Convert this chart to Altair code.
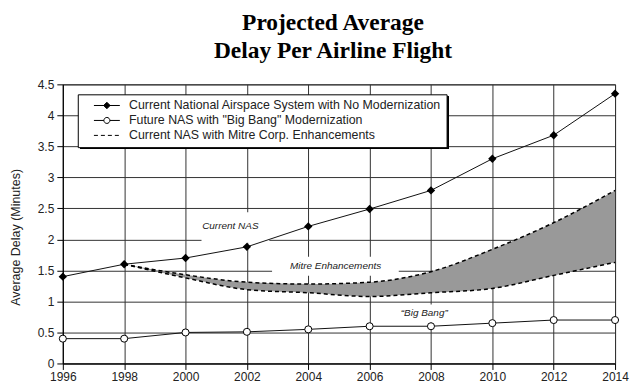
import altair as alt
import pandas as pd

years = [1996, 1998, 2000, 2002, 2004, 2006, 2008, 2010, 2012, 2014]
current_nas = [1.40, 1.60, 1.70, 1.88, 2.21, 2.49, 2.79, 3.30, 3.68, 4.35]
big_bang = [0.40, 0.40, 0.50, 0.51, 0.55, 0.60, 0.60, 0.65, 0.70, 0.70]

mitre_years = [1998, 2000, 2002, 2004, 2006, 2008, 2010, 2012, 2014]
mitre_upper = [1.60, 1.43, 1.31, 1.28, 1.31, 1.48, 1.84, 2.27, 2.79]
mitre_lower = [1.60, 1.38, 1.19, 1.14, 1.08, 1.14, 1.21, 1.42, 1.63]

series_names = [
    "Current National Airspace System with No Modernization",
    "Future NAS with \"Big Bang\" Modernization",
    "Current NAS with Mitre Corp. Enhancements",
]

label_texts = ["Current NAS", "Mitre Enhancements", "\u201cBig Bang\u201d"]
label_x = [2001.46, 2004.89, 2007.78]
label_y = [2.22, 1.567, 0.82]
box_x1 = [2000.52, 2002.82, 2006.88]
box_x2 = [2002.73, 2006.95, 2008.90]
box_y1 = [2.44, 1.72, 0.95]
box_y2 = [1.945, 1.414, 0.66]

y_ticks = [0, 0.5, 1, 1.5, 2, 2.5, 3, 3.5, 4, 4.5]

lines_df = pd.DataFrame({
    "year": years * 2,
    "value": current_nas + big_bang,
    "series": [series_names[0]] * len(years) + [series_names[1]] * len(years),
})
mitre_df = pd.DataFrame({"year": mitre_years, "upper": mitre_upper, "lower": mitre_lower})
labels_df = pd.DataFrame({"text": label_texts, "x": label_x, "y": label_y,
                          "x1": box_x1, "x2": box_x2, "y1": box_y1, "y2": box_y2})

xs = alt.Scale(domain=[1996, 2014], nice=False)
ys = alt.Scale(domain=[0, 4.5], nice=False)

x_axis = alt.Axis(values=years, format="d", title=None, grid=True, labelFlush=False)
y_axis = alt.Axis(values=y_ticks, format="~g", title="Average Delay (Minutes)", grid=True,
                  titleX=-47, titleY=153, titleAngle=-90, titleBaseline="middle",
                  titleFont="Liberation Sans", titleFontSize=12.5,
                  titleFontWeight="normal", titleColor="#222")


def xq(f):
    return alt.X(f, scale=xs, axis=x_axis)


def yq(f):
    return alt.Y(f, scale=ys, axis=y_axis)


base = alt.Chart(lines_df)

boxes = alt.Chart(labels_df).mark_rect(color="white").encode(
    x=xq("x1:Q"), x2="x2:Q", y=yq("y1:Q"), y2="y2:Q",
)

texts = alt.Chart(labels_df).mark_text(
    font="Liberation Sans", fontSize=10, fontStyle="italic", color="#222"
).encode(x=xq("x:Q"), y=yq("y:Q"), text="text:N")

area = alt.Chart(mitre_df).mark_area(color="#999999", interpolate="monotone", opacity=1).encode(
    x=xq("year:Q"), y=yq("upper:Q"), y2="lower:Q")
upper = alt.Chart(mitre_df).mark_line(color="black", strokeDash=[4, 3], strokeWidth=1.5,
                                      interpolate="monotone").encode(x=xq("year:Q"), y=yq("upper:Q"))
lower = alt.Chart(mitre_df).mark_line(color="black", strokeDash=[4, 3], strokeWidth=1.5,
                                      interpolate="monotone").encode(x=xq("year:Q"), y=yq("lower:Q"))

lines = base.mark_line(color="#111", strokeWidth=1).encode(
    x=xq("year:Q"), y=yq("value:Q"), detail="series:N")

diamonds = base.transform_filter(alt.datum.series == series_names[0]).mark_point(
    shape="diamond", filled=True, color="black", size=70, opacity=1
).encode(x=xq("year:Q"), y=yq("value:Q"))
circles = base.transform_filter(alt.datum.series == series_names[1]).mark_point(
    shape="circle", filled=True, fill="white", stroke="black", strokeWidth=1, size=50, opacity=1
).encode(x=xq("year:Q"), y=yq("value:Q"))

# legend box shadow (decoration behind the legend frame)
shadow = alt.Chart(lines_df).mark_rect(color="black").encode(
    x=alt.value(17.5), x2=alt.value(387), y=alt.value(12.5), y2=alt.value(64.5))

# legend symbols: line + marker paths (unit r = 5px)
legend_paths = [
    "M-2.6,0H2.6M0,-0.65L0.65,0L0,0.65L-0.65,0Z",
    "M-2.6,0H-0.6M0.6,0H2.6M0.6,0A0.6,0.6 0 1,1 -0.6,0A0.6,0.6 0 1,1 0.6,0Z",
    "M-2.6,0H-1.8M-1.2,0H-0.4M0.2,0H1.0M1.6,0H2.4",
]

leg = dict(title=None, orient="none", legendX=15, legendY=10)
legend_layer = base.mark_point(filled=True, stroke="black", strokeWidth=1, opacity=0).encode(
    x=xq("year:Q"), y=yq("value:Q"),
    shape=alt.Shape("series:N", scale=alt.Scale(domain=series_names, range=legend_paths),
                    legend=alt.Legend(fillColor="white", strokeColor="black", padding=5,
                                      symbolOffset=18, symbolSize=100, symbolOpacity=1,
                                      symbolStrokeWidth=1,
                                      labelFont="Liberation Sans", labelFontSize=12.4,
                                      labelColor="#222", labelLimit=500, labelOffset=16,
                                      rowPadding=2, **leg)),
    fill=alt.Fill("series:N", scale=alt.Scale(domain=series_names, range=["black", "white", "white"]),
                  legend=alt.Legend(**leg)),
    stroke=alt.Stroke("series:N", scale=alt.Scale(domain=series_names, range=["black", "black", "black"]),
                      legend=alt.Legend(**leg)),
)

chart = alt.layer(
    boxes, texts, area, upper, lower, lines, diamonds, circles, shadow, legend_layer
).properties(
    width=554, height=280,
    padding={"left": 55, "top": 76, "right": 17, "bottom": 20},
    autosize=alt.AutoSizeParams(type="none"),
    title=alt.TitleParams(
        text=["Projected Average", "Delay Per Airline Flight"],
        font="Liberation Serif", fontSize=23.5, fontWeight="bold", color="black",
        anchor="middle", lineHeight=28.5, offset=16, dx=-6,
    ),
).configure_view(stroke="#333").configure_axis(
    gridColor="#333", gridOpacity=1, gridWidth=1, domainColor="black", tickColor="black",
    tickSize=6, labelPadding=3, labelFont="Liberation Sans", labelFontSize=12,
    labelColor="#222",
).configure_axisX(labelPadding=2)

chart.save("out.html", embed_options={"renderer": "svg", "actions": False})
